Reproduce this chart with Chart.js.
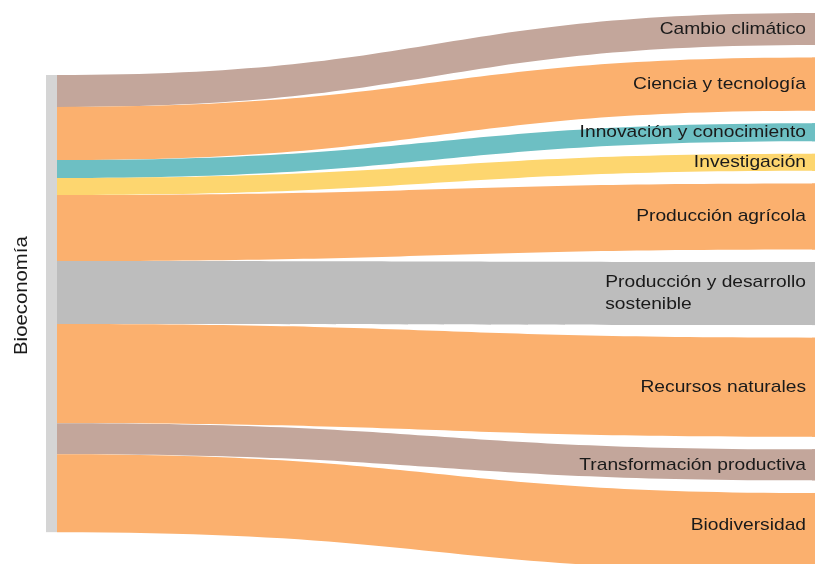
<!DOCTYPE html>
<html>
<head>
<meta charset="utf-8">
<script src="https://cdn.jsdelivr.net/npm/chart.js@4.4.1/dist/chart.umd.min.js"></script>
<style>
  html, body { margin: 0; padding: 0; background: #fff; }
  canvas { display: block; }
</style>
</head>
<body>
<canvas id="sankey" width="817" height="564"></canvas>
<script>
// --- datos ---
const sourceLabel = 'Bioeconomía';
const targetLabels = [
    'Cambio climático',
    'Ciencia y tecnología',
    'Innovación y conocimiento',
    'Investigación',
    'Producción agrícola',
    'Producción y desarrollo\nsostenible',
    'Recursos naturales',
    'Transformación productiva',
    'Biodiversidad'
];
const flowValues = [32, 53, 18, 17, 66, 63, 99, 31, 78];
const flowColors = [
    '#c3a69b', '#fbb06e', '#6dbfc3', '#fdd66f', '#fbb06e',
    '#bdbdbd', '#fbb06e', '#c3a69b', '#fbb06e'
];

// --- layout ---
const nodeGap = 12.6;      // hueco entre nodos destino (en unidades de valor)
const leftShift = 0.615;   // fracción del espacio libre sobre el nodo origen
const bottomCrop = 7;      // el último nodo queda cortado por el borde inferior
const sourceColor = '#d5d5d5';
const textColor = '#1a1a1a';
const labelFont = '17px "Liberation Sans", Arial, sans-serif';
const sourceFont = '18px "Liberation Sans", Arial, sans-serif';
const textStretch = 1.13;

const total = flowValues.reduce((a, b) => a + b, 0);
const spare = nodeGap * (flowValues.length - 1);

function drawLabel(ctx, text, xRight, yMid) {
    const lines = text.split('\n');
    const lineH = 22;
    ctx.save();
    ctx.font = labelFont;
    ctx.fillStyle = textColor;
    ctx.textBaseline = 'middle';
    ctx.textAlign = 'left';
    ctx.translate(xRight, yMid);
    ctx.scale(textStretch, 1);
    const w = Math.max(...lines.map(l => ctx.measureText(l).width));
    lines.forEach((l, i) => {
        const dy = (i - (lines.length - 1) / 2) * lineH;
        ctx.fillText(l, -w, dy);
    });
    ctx.restore();
}

// Plugin: dibuja los flujos usando las escalas de Chart.js
const sankeyPlugin = {
    id: 'sankeyFlows',
    beforeDatasetsDraw(chart) {
        const { ctx, scales: { x, y } } = chart;
        const x0 = x.getPixelForValue(0);
        const x1 = x.getPixelForValue(1);
        const xc = x.getPixelForValue(0.5);
        const leftStart = spare * leftShift;

        let lc = leftStart;
        let rc = 0;
        ctx.save();
        flowValues.forEach((v, i) => {
            const la = y.getPixelForValue(lc), lb = y.getPixelForValue(lc + v);
            const ra = y.getPixelForValue(rc), rb = y.getPixelForValue(rc + v);
            ctx.beginPath();
            ctx.moveTo(x0, la);
            ctx.bezierCurveTo(xc, la, xc, ra, x1, ra);
            ctx.lineTo(x1, rb);
            ctx.bezierCurveTo(xc, rb, xc, lb, x0, lb);
            ctx.closePath();
            ctx.fillStyle = flowColors[i];
            ctx.fill();

            // nodo destino (barra fina a la derecha)
            ctx.fillRect(x1 - 3, ra, 3, rb - ra);

            drawLabel(ctx, targetLabels[i], x1 - 9, Math.min((ra + rb) / 2, chart.height - 39));

            lc += v;
            rc += v + nodeGap;
        });

        // nodo origen
        const sTop = y.getPixelForValue(leftStart);
        const sBot = y.getPixelForValue(leftStart + total);
        ctx.fillStyle = sourceColor;
        ctx.fillRect(x0 - 11, sTop, 11, sBot - sTop);

        ctx.font = sourceFont;
        ctx.fillStyle = textColor;
        ctx.textAlign = 'center';
        ctx.textBaseline = 'middle';
        ctx.translate(22, (sTop + sBot) / 2 - 8);
        ctx.rotate(-Math.PI / 2);
        ctx.scale(textStretch, 1);
        ctx.fillText(sourceLabel, 0, 0);
        ctx.restore();
    }
};

new Chart(document.getElementById('sankey'), {
    type: 'scatter',
    data: { datasets: [{ data: [] }] },
    options: {
        responsive: false,
        animation: false,
        layout: { padding: { left: 57, right: 2, top: 13, bottom: 0 } },
        plugins: { legend: { display: false }, tooltip: { enabled: false } },
        scales: {
            x: { type: 'linear', min: 0, max: 1, display: false },
            y: { type: 'linear', min: 0, max: total + spare - bottomCrop, reverse: true, display: false }
        }
    },
    plugins: [sankeyPlugin]
});
</script>
</body>
</html>
